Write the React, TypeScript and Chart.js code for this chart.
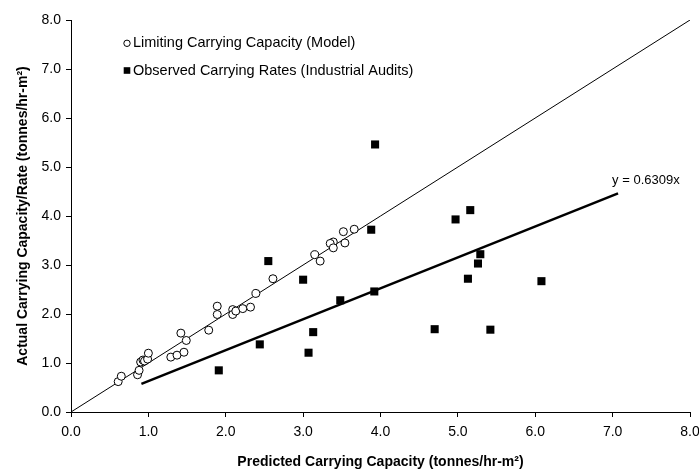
import React, { useEffect, useRef } from 'react';
import { Chart, registerables } from 'chart.js';

Chart.register(...registerables);

// Limiting Carrying Capacity (Model) — open circles
const modelX = [0.61, 0.65, 0.86, 0.88, 0.90, 0.93, 0.95, 0.99, 1.00, 1.29, 1.37, 1.46, 1.42, 1.49, 1.78, 1.89, 1.89, 2.09, 2.09, 2.13, 2.22, 2.32, 2.39, 2.61, 3.15, 3.22, 3.39, 3.35, 3.39, 3.54, 3.52, 3.66];
const modelY = [0.62, 0.73, 0.76, 0.85, 1.02, 1.06, 1.04, 1.08, 1.20, 1.12, 1.16, 1.22, 1.61, 1.46, 1.67, 2.16, 1.99, 2.09, 1.99, 2.06, 2.11, 2.14, 2.42, 2.72, 3.21, 3.08, 3.47, 3.44, 3.35, 3.45, 3.68, 3.73];

// Observed Carrying Rates (Industrial Audits) — filled squares
const auditX = [1.91, 2.44, 2.55, 3.00, 3.07, 3.13, 3.48, 3.88, 3.93, 3.92, 4.70, 4.97, 5.16, 5.29, 5.26, 5.13, 5.42, 6.08];
const auditY = [0.85, 1.38, 3.08, 2.70, 1.21, 1.63, 2.28, 3.72, 5.46, 2.46, 1.69, 3.93, 4.12, 3.22, 3.03, 2.72, 1.68, 2.67];

// 1:1 line and trend line (y = 0.6309x)
const unityX = [0, 8];
const trendSlope = 0.6309;
const trendX = [0.91, 7.07];
const trendLabel = 'y = 0.6309x';

const seriesNames = ['Limiting Carrying Capacity (Model)', 'Observed Carrying Rates (Industrial Audits)'];
const axisMin = 0;
const axisMax = 8;
const axisStep = 1;
const xTitle = 'Predicted Carrying Capacity (tonnes/hr-m²)';
const yTitle = 'Actual Carrying Capacity/Rate (tonnes/hr-m²)';

const FONT = 'Liberation Sans, Arial, sans-serif';

const overlayPlugin = {
  id: 'overlay',
  afterDraw(chart: any) {
    const { ctx, chartArea, scales } = chart;
    ctx.save();
    // legend
    ctx.font = `14.5px ${FONT}`;
    ctx.fillStyle = '#000';
    ctx.strokeStyle = '#000';
    ctx.textBaseline = 'middle';
    ctx.textAlign = 'left';
    const mx = chartArea.left + 56;
    const tx = chartArea.left + 62;
    const r1 = chartArea.top + 23.3;
    const r2 = chartArea.top + 50.5;
    ctx.beginPath();
    ctx.lineWidth = 1;
    ctx.fillStyle = '#fff';
    ctx.arc(mx, r1, 3.2, 0, Math.PI * 2);
    ctx.fill();
    ctx.stroke();
    ctx.fillStyle = '#000';
    ctx.fillText(seriesNames[0], tx, r1);
    ctx.fillRect(mx - 3.3, r2 - 3.3, 6.6, 6.6);
    ctx.fillText(seriesNames[1], tx, r2);
    // trend label
    ctx.font = `13px ${FONT}`;
    ctx.textAlign = 'center';
    ctx.fillText(trendLabel, scales.x.getPixelForValue(7.43), scales.y.getPixelForValue(4.73));
    ctx.restore();
  },
};

export default function App() {
  const ref = useRef<HTMLCanvasElement>(null);
  useEffect(() => {
    document.body.style.margin = '0';
    const tickFmt = (v: any) => Number(v).toFixed(1);
    const chart = new Chart(ref.current as HTMLCanvasElement, {
      type: 'scatter',
      data: {
        datasets: [
          {
            label: seriesNames[0],
            data: modelX.map((x, i) => ({ x, y: modelY[i] })),
            pointStyle: 'circle',
            pointRadius: 4,
            pointBorderWidth: 1,
            pointBackgroundColor: '#fff',
            pointBorderColor: '#000',
            order: 0,
          },
          {
            label: seriesNames[1],
            data: auditX.map((x, i) => ({ x, y: auditY[i] })),
            pointStyle: 'rect',
            pointRadius: 5.7,
            pointBorderWidth: 0,
            pointBackgroundColor: '#000',
            pointBorderColor: '#000',
            order: 1,
          },
          {
            label: '1:1',
            data: unityX.map((x) => ({ x, y: x })),
            showLine: true,
            borderColor: '#000',
            borderWidth: 1,
            pointRadius: 0,
            order: 3,
          },
          {
            label: 'trend',
            data: trendX.map((x) => ({ x, y: trendSlope * x })),
            showLine: true,
            borderColor: '#000',
            borderWidth: 2.5,
            pointRadius: 0,
            order: 2,
          },
        ],
      },
      options: {
        responsive: false,
        animation: false,
        events: [],
        layout: { padding: { top: 20, right: 9, left: 0, bottom: 0 } },
        plugins: { legend: { display: false }, tooltip: { enabled: false } },
        scales: {
          x: {
            type: 'linear',
            min: axisMin,
            max: axisMax,
            afterFit: (s: any) => { s.height = 62; s.paddingRight = 0; s.paddingLeft = 0; },
            ticks: { stepSize: axisStep, callback: tickFmt, color: '#000', font: { family: FONT, size: 14 }, padding: 7, maxRotation: 0 },
            grid: { display: true, drawOnChartArea: false, drawTicks: true, tickLength: 5, color: '#000' },
            border: { display: true, color: '#000', width: 1 },
            title: { display: true, text: xTitle, color: '#000', font: { family: FONT, size: 14, weight: 'bold' }, padding: { top: 4, bottom: 3 } },
          },
          y: {
            type: 'linear',
            min: axisMin,
            max: axisMax,
            afterFit: (s: any) => { s.width = 71; s.paddingTop = 0; s.paddingBottom = 0; },
            ticks: { stepSize: axisStep, callback: tickFmt, color: '#000', font: { family: FONT, size: 14 }, padding: 5 },
            grid: { display: true, drawOnChartArea: false, drawTicks: true, tickLength: 5, color: '#000' },
            border: { display: true, color: '#000', width: 1 },
            title: { display: true, text: yTitle, color: '#000', font: { family: FONT, size: 14, weight: 'bold' }, padding: { top: 15, bottom: 0 } },
          },
        },
      },
      plugins: [overlayPlugin],
    } as any);
    return () => chart.destroy();
  }, []);
  return (
    <div style={{ width: 699, height: 474 }}>
      <canvas ref={ref} width={699} height={474} style={{ width: 699, height: 474, display: 'block' }} />
    </div>
  );
}
